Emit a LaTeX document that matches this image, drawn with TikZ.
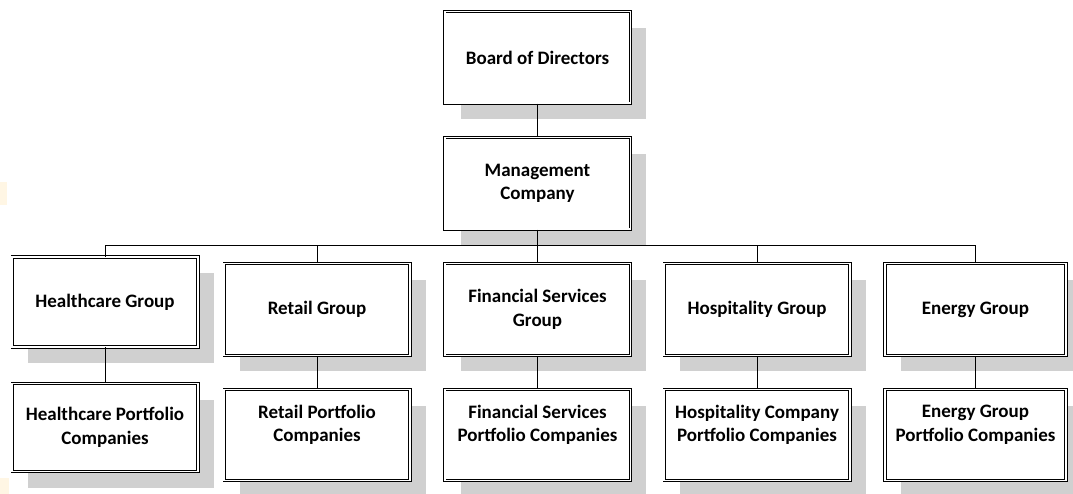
\documentclass[tikz,border=0pt]{standalone}
\usepackage{fontspec}
\setmainfont{Carlito}
\usetikzlibrary{shadows}
\definecolor{shadowgray}{RGB}{208,208,208}
\definecolor{glow}{RGB}{255,246,228}
\tikzset{
  orgbox/.style={draw=black, double=white, line width=0.9pt, double distance=1.6pt,
    fill=white, align=center, inner sep=0pt,
    font=\fontsize{19}{23.5}\selectfont\bfseries,
    drop shadow={shadow xshift=16pt, shadow yshift=-16pt, fill=shadowgray, opacity=1},
    minimum width=185.6pt, minimum height=91.6pt},
  conn/.style={draw=black, line width=1pt}
}
\begin{document}
\begin{tikzpicture}[x=1pt, y=-1pt]
\useasboundingbox (0,0) rectangle (1073,494);
\fill[glow] (0,182) rectangle (7,205);
\fill[glow] (0,478) rectangle (9,494);
% top level
\node[orgbox] (board) at (537.5,57.5) {Board of Directors};
\node[orgbox] (mgmt) at (537.5,183.5) {Management\\Company};
% groups
\node[orgbox, minimum height=90pt] (hcg) at (105,302) {Healthcare Group};
\node[orgbox] (rtg) at (317,309.5) {Retail Group};
\node[orgbox] (fsg) at (537.5,309.5) {Financial Services\\Group};
\node[orgbox] (hsg) at (757,309.5) {Hospitality Group};
\node[orgbox, minimum width=181pt] (eng) at (975.5,309.5) {Energy Group};
% portfolios
\node[orgbox, minimum height=88pt] (hcp) at (105,427.5) {Healthcare Portfolio\\Companies};
\node[orgbox, minimum height=91pt] (rtp) at (317,435) {Retail Portfolio\\Companies\\\mbox{}};
\node[orgbox, minimum height=91pt] (fsp) at (537.5,435) {Financial Services\\Portfolio Companies\\\mbox{}};
\node[orgbox, minimum height=91pt] (hsp) at (757,435) {Hospitality Company\\Portfolio Companies\\\mbox{}};
\node[orgbox, minimum height=91pt, minimum width=181pt] (enp) at (975.5,435) {Energy Group\\Portfolio Companies\\\mbox{}};
% connectors
\coordinate (bus) at (537.5,246);
\draw[conn] (board) -- (mgmt);
\draw[conn] (mgmt) -- (bus);
\draw[conn] (hcg.north) |- (bus);
\draw[conn] (rtg.north) |- (bus);
\draw[conn] (fsg.north) -- (bus);
\draw[conn] (hsg.north) |- (bus);
\draw[conn] (eng.north) |- (bus);
\draw[conn] (hcg) -- (hcp);
\draw[conn] (rtg) -- (rtp);
\draw[conn] (fsg) -- (fsp);
\draw[conn] (hsg) -- (hsp);
\draw[conn] (eng) -- (enp);
\end{tikzpicture}
\end{document}
